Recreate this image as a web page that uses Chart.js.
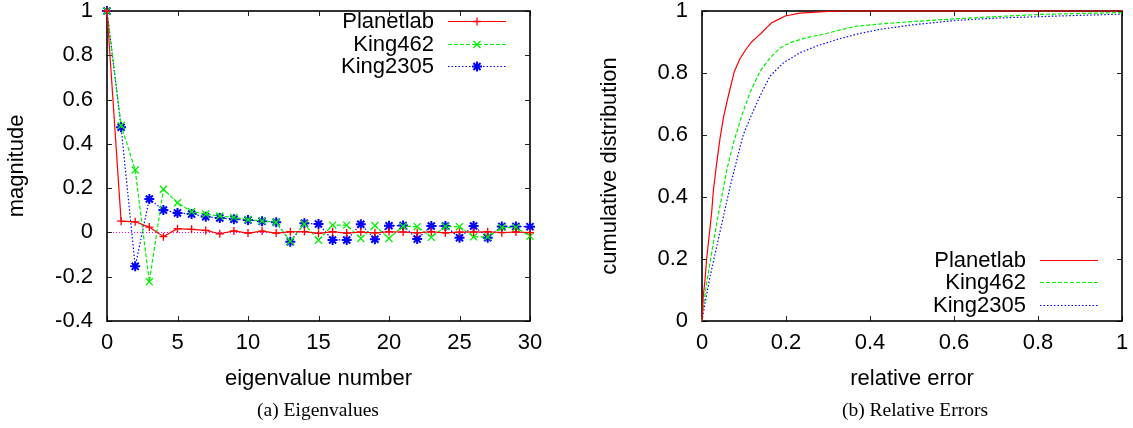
<!DOCTYPE html>
<html><head><meta charset="utf-8">
<script src="https://cdn.jsdelivr.net/npm/chart.js@4.4.1/dist/chart.umd.min.js"></script>
<style>
html,body{margin:0;padding:0;background:#fff;width:1133px;height:428px;overflow:hidden;}
#cA{position:absolute;left:0;top:0;}
#cB{position:absolute;left:575px;top:0;}
.cap{position:absolute;top:399px;font-family:'Liberation Serif','Times New Roman',serif;font-size:19.5px;line-height:22px;color:#000;white-space:nowrap;transform:translateX(-50%);}
</style></head><body>
<canvas id="cA" width="570" height="400"></canvas>
<canvas id="cB" width="558" height="400"></canvas>
<div class="cap" style="left:318px">(a) Eigenvalues</div>
<div class="cap" style="left:915px">(b) Relative Errors</div>
<script>
// ---- (a) Eigenvalues ----
const eigenIndex = [0,1,2,3,4,5,6,7,8,9,10,11,12,13,14,15,16,17,18,19,20,21,22,23,24,25,26,27,28,29,30];
const eigPlanetlab = [1, 0.051, 0.048, 0.024, -0.019, 0.017, 0.014, 0.009, -0.006, 0.007, -0.003, 0.006, -0.003, 0.003, 0.004, -0.004, 0.003, -0.003, 0.002, -0.002, 0.003, 0.002, -0.002, 0.003, -0.002, 0.001, 0.002, 0.003, -0.001, 0.002, -0.001];
const eigKing462 = [1, 0.483, 0.282, -0.223, 0.195, 0.134, 0.094, 0.083, 0.074, 0.068, 0.058, 0.052, 0.046, -0.04, 0.038, -0.035, 0.033, 0.033, -0.027, 0.031, -0.027, 0.028, 0.026, -0.022, 0.027, 0.026, -0.02, -0.02, 0.022, 0.022, -0.017];
const eigKing2305 = [1, 0.475, -0.153, 0.151, 0.101, 0.088, 0.083, 0.071, 0.065, 0.06, 0.056, 0.05, 0.046, -0.042, 0.041, 0.038, -0.034, -0.034, 0.037, -0.031, 0.03, 0.031, -0.03, 0.029, 0.029, -0.024, 0.029, -0.024, 0.027, 0.027, 0.026];
const xTicksA = [0,5,10,15,20,25,30];
const xTickLabelsA = ['0','5','10','15','20','25','30'];
const yTicksA = [-0.4,-0.2,0,0.2,0.4,0.6,0.8,1];
const yTickLabelsA = ['-0.4','-0.2','0','0.2','0.4','0.6','0.8','1'];

// ---- (b) Relative Errors (CDF) ----
const cdfPlanetlabX = [0,0.003,0.007,0.011,0.015,0.019,0.023,0.027,0.035,0.043,0.051,0.059,0.067,0.077,0.09,0.104,0.118,0.13,0.142,0.155,0.166,0.182,0.198,0.233,0.29,0.33,0.5,1];
const cdfPlanetlabY = [0,0.08,0.13,0.2,0.25,0.3,0.35,0.42,0.51,0.59,0.655,0.705,0.75,0.805,0.845,0.875,0.9,0.915,0.93,0.948,0.962,0.973,0.984,0.993,0.998,1,1,1];
const cdfKing462X = [0,0.002,0.011,0.023,0.035,0.047,0.059,0.075,0.094,0.114,0.138,0.162,0.186,0.21,0.249,0.289,0.329,0.368,0.424,0.5,0.606,0.7,0.805,0.9,1];
const cdfKing462Y = [0,0.035,0.12,0.22,0.315,0.4,0.488,0.574,0.66,0.736,0.805,0.849,0.881,0.898,0.914,0.925,0.939,0.951,0.958,0.966,0.975,0.982,0.989,0.992,0.995];
const cdfKing2305X = [0,0.007,0.019,0.035,0.051,0.067,0.083,0.098,0.118,0.138,0.162,0.194,0.233,0.273,0.321,0.368,0.424,0.5,0.606,0.7,0.805,0.9,1];
const cdfKing2305Y = [0,0.056,0.142,0.24,0.337,0.434,0.52,0.6,0.665,0.725,0.79,0.833,0.865,0.887,0.908,0.925,0.941,0.955,0.97,0.977,0.982,0.986,0.99];
const xTicksB = [0,0.2,0.4,0.6,0.8,1];
const xTickLabelsB = ['0','0.2','0.4','0.6','0.8','1'];
const yTicksB = [0,0.2,0.4,0.6,0.8,1];
const yTickLabelsB = ['0','0.2','0.4','0.6','0.8','1'];

const seriesNames = ['Planetlab','King462','King2305'];
const seriesColors = ['#ff0000','#00f000','#0000ff'];

const FONT = "'Liberation Sans', Arial, Helvetica, sans-serif";
Chart.defaults.font.family = FONT;
Chart.defaults.font.size = 22;
Chart.defaults.color = '#000';

const toPts = (xs, ys) => xs.map((x, i) => ({x: x, y: ys[i]}));

const framePlugin = {
  id: 'gpFrame',
  beforeDatasetsDraw(chart, args, opts) {
    const {ctx, chartArea: a, scales} = chart;
    ctx.save();
    if (opts.zeroLine) {
      const py = Math.round(scales.y.getPixelForValue(0)) + 0.5;
      ctx.strokeStyle = '#ff00ff'; ctx.lineWidth = 1; ctx.setLineDash([1, 2]);
      ctx.beginPath(); ctx.moveTo(a.left, py); ctx.lineTo(a.right, py); ctx.stroke();
      ctx.setLineDash([]);
    }
    ctx.strokeStyle = '#222'; ctx.lineWidth = 1;
    ctx.beginPath();
    const L = 5;
    scales.x.ticks.forEach(t => {
      const px = Math.round(scales.x.getPixelForValue(t.value)) + 0.5;
      ctx.moveTo(px, a.bottom); ctx.lineTo(px, a.bottom - L);
      ctx.moveTo(px, a.top); ctx.lineTo(px, a.top + L);
    });
    scales.y.ticks.forEach(t => {
      const py = Math.round(scales.y.getPixelForValue(t.value)) + 0.5;
      ctx.moveTo(a.left, py); ctx.lineTo(a.left + L, py);
      ctx.moveTo(a.right, py); ctx.lineTo(a.right - L, py);
    });
    ctx.stroke();
    ctx.strokeStyle = '#000'; ctx.lineWidth = 1.6;
    ctx.strokeRect(a.left, a.top, a.right - a.left, a.bottom - a.top);
    ctx.restore();
  }
};

const keyPlugin = {
  id: 'gpKey',
  afterDatasetsDraw(chart, args, opts) {
    const {ctx, chartArea: a} = chart;
    ctx.save();
    ctx.font = '22px ' + FONT;
    ctx.textAlign = 'right'; ctx.textBaseline = 'middle';
    chart.data.datasets.forEach((ds, i) => {
      const base = (opts.fromTop != null ? a.top + opts.fromTop : a.bottom - opts.fromBottom) + i * opts.step;
      const y = Math.round(base) + 0.5;
      ctx.fillStyle = '#000';
      ctx.fillText(ds.label, a.right - opts.textGap, y);
      const x0 = a.right - opts.lineStart, x1 = a.right - opts.lineEnd;
      ctx.strokeStyle = ds.borderColor; ctx.lineWidth = ds.borderWidth;
      ctx.setLineDash(ds.borderDash || []);
      ctx.beginPath(); ctx.moveTo(x0, y); ctx.lineTo(x1, y); ctx.stroke();
      ctx.setLineDash([]);
      if (ds.pointRadius > 0) {
        ctx.strokeStyle = ds.borderColor; ctx.fillStyle = ds.borderColor; ctx.lineWidth = ds.pointBorderWidth;
        Chart.helpers.drawPoint(ctx, {pointStyle: ds.pointStyle, radius: ds.pointRadius, rotation: 0, borderWidth: ds.pointBorderWidth}, (x0 + x1) / 2, y);
      }
    });
    ctx.restore();
  }
};

function fixedAxis(ticks, labels, min, max, title, opts) {
  return {
    type: 'linear', min: min, max: max,
    grid: {display: false, drawTicks: false},
    border: {display: false},
    afterBuildTicks: s => { s.ticks = ticks.map(v => ({value: v})); },
    afterFit: s => {
      if (opts.width != null) s.width = opts.width;
      if (opts.height != null) s.height = opts.height;
      s.paddingTop = 0; s.paddingBottom = 0; s.paddingLeft = 0; s.paddingRight = 0;
    },
    ticks: {padding: opts.tickPad, maxRotation: 0, autoSkip: false, font: {size: 22},
      callback: (v, i) => labels[i]},
    title: {display: true, text: title, font: {size: 22}, padding: opts.titlePad}
  };
}

const styleA = [
  {pointStyle: 'cross', pointRadius: 4, pointBorderWidth: 1.3, borderDash: []},
  {pointStyle: 'crossRot', pointRadius: 5, pointBorderWidth: 1.3, borderDash: [4, 2]},
  {pointStyle: 'star', pointRadius: 5, pointBorderWidth: 2, borderDash: [1.5, 2]}
];
const eigSeries = [eigPlanetlab, eigKing462, eigKing2305];

new Chart(document.getElementById('cA'), {
  type: 'line',
  data: {
    datasets: eigSeries.map((ys, i) => ({
      label: seriesNames[i],
      data: toPts(eigenIndex, ys),
      borderColor: seriesColors[i], backgroundColor: seriesColors[i],
      pointBorderColor: seriesColors[i], pointBackgroundColor: seriesColors[i],
      borderWidth: 1.2, pointBorderWidth: styleA[i].pointBorderWidth, tension: 0, clip: false,
      pointStyle: styleA[i].pointStyle, pointRadius: styleA[i].pointRadius,
      borderDash: styleA[i].borderDash
    }))
  },
  options: {
    responsive: false, animation: false, devicePixelRatio: 1,
    layout: {padding: {left: 0, top: 11, right: 40, bottom: 0}},
    plugins: {legend: {display: false}, tooltip: {enabled: false},
      gpFrame: {zeroLine: true},
      gpKey: {fromTop: 10, step: 22.5, textGap: 96, lineStart: 82, lineEnd: 24}},
    scales: {
      x: fixedAxis(xTicksA, xTickLabelsA, 0, 30, 'eigenvalue number', {height: 79, tickPad: 9, titlePad: {top: 0, bottom: 8}}),
      y: fixedAxis(yTicksA, yTickLabelsA, -0.4, 1, 'magnitude', {width: 107, tickPad: 14, titlePad: {top: 3.5, bottom: 0}})
    }
  },
  plugins: [framePlugin, keyPlugin]
});

const styleB = [[], [4, 2], [1.5, 2]];
const cdfX = [cdfPlanetlabX, cdfKing462X, cdfKing2305X];
const cdfY = [cdfPlanetlabY, cdfKing462Y, cdfKing2305Y];

new Chart(document.getElementById('cB'), {
  type: 'line',
  data: {
    datasets: cdfX.map((xs, i) => ({
      label: seriesNames[i],
      data: toPts(xs, cdfY[i]),
      borderColor: seriesColors[i], backgroundColor: seriesColors[i],
      borderWidth: 1.2, pointRadius: 0, pointBorderWidth: 0, tension: 0, clip: false,
      borderDash: styleB[i]
    }))
  },
  options: {
    responsive: false, animation: false, devicePixelRatio: 1,
    layout: {padding: {left: 0, top: 11, right: 11, bottom: 0}},
    plugins: {legend: {display: false}, tooltip: {enabled: false},
      gpFrame: {zeroLine: false},
      gpKey: {fromBottom: 61.5, step: 22.5, textGap: 96, lineStart: 82, lineEnd: 24}},
    scales: {
      x: fixedAxis(xTicksB, xTickLabelsB, 0, 1, 'relative error', {height: 79, tickPad: 9, titlePad: {top: 0, bottom: 8}}),
      y: fixedAxis(yTicksB, yTickLabelsB, 0, 1, 'cumulative distribution', {width: 127, tickPad: 14, titlePad: {top: 22, bottom: 0}})
    }
  },
  plugins: [framePlugin, keyPlugin]
});
</script>
</body></html>
